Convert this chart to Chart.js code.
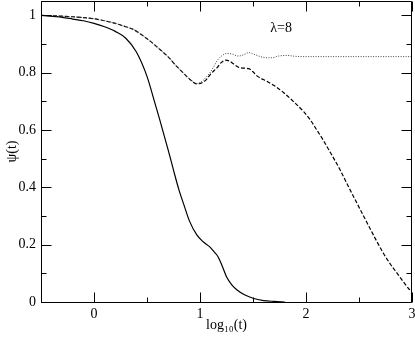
<!DOCTYPE html>
<html>
<head>
<meta charset="utf-8">
<script src="https://cdn.jsdelivr.net/npm/chart.js@4.4.1/dist/chart.umd.min.js"></script>
<style>
  html, body { margin: 0; padding: 0; background: #ffffff; }
  #wrap { width: 415px; height: 339px; }
</style>
</head>
<body>
<div id="wrap"><canvas id="c" width="415" height="339"></canvas></div>
<script>
// ---- data ----
const solidX = [-0.5,-0.3,-0.2,-0.1,0.0,0.1,0.2,0.3,0.4,0.5,0.57,0.62,0.7,0.75,0.8,0.85,0.9,0.97,1.03,1.09,1.14,1.17,1.21,1.25,1.3,1.35,1.42,1.5,1.6,1.7,1.8];
const solidY = [1.0,0.993,0.987,0.981,0.972,0.960,0.944,0.920,0.872,0.787,0.700,0.636,0.530,0.460,0.393,0.337,0.283,0.234,0.210,0.193,0.172,0.158,0.125,0.088,0.060,0.042,0.025,0.013,0.005,0.002,0.0];

const dashedX = [-0.5,-0.3,-0.2,0.0,0.1,0.2,0.3,0.37,0.45,0.53,0.6,0.7,0.78,0.84,0.9,0.97,1.02,1.06,1.1,1.16,1.2,1.24,1.28,1.31,1.38,1.46,1.5,1.54,1.63,1.7,1.79,1.88,1.98,2.04,2.09,2.16,2.24,2.32,2.4,2.48,2.55,2.61,2.67,2.73,2.8,2.86,2.92,2.98,3.0];
const dashedY = [1.0,0.997,0.995,0.988,0.981,0.972,0.960,0.951,0.932,0.910,0.888,0.855,0.822,0.800,0.778,0.761,0.765,0.776,0.795,0.817,0.835,0.844,0.840,0.832,0.817,0.814,0.803,0.788,0.770,0.755,0.730,0.700,0.663,0.636,0.607,0.566,0.515,0.462,0.403,0.345,0.295,0.252,0.210,0.170,0.130,0.100,0.070,0.042,0.036];

const dottedX = [-0.5,-0.3,-0.2,0.0,0.1,0.2,0.3,0.37,0.45,0.53,0.6,0.7,0.78,0.84,0.9,0.94,0.97,1.02,1.06,1.1,1.17,1.21,1.25,1.3,1.36,1.41,1.46,1.51,1.57,1.63,1.68,1.74,1.82,1.9,2.0,2.5,3.0];
const dottedY = [1.0,0.997,0.995,0.988,0.981,0.972,0.960,0.951,0.932,0.910,0.888,0.855,0.822,0.800,0.778,0.768,0.762,0.770,0.785,0.803,0.846,0.860,0.867,0.865,0.858,0.862,0.870,0.864,0.856,0.852,0.852,0.858,0.860,0.857,0.856,0.856,0.856];

const xTickValues = [0, 1, 2, 3];
const xMinorValues = [-0.5, 0.5, 1.5, 2.5];
const yTickValues = [0, 0.2, 0.4, 0.6, 0.8, 1];
const yTickLabels = ["0", "0.2", "0.4", "0.6", "0.8", "1"];
const yMinorValues = [0.1, 0.3, 0.5, 0.7, 0.9];
const annotationText = "λ=8";
const annotationPos = [1.765, 0.955];
const xTitle = "log₁₀(t)";
const yTitle = "ψ(t)";

const toPts = (xs, ys) => xs.map((x, i) => ({ x: x, y: ys[i] }));

const FONT = "'Liberation Serif', 'Times New Roman', serif";

const framePlugin = {
  id: 'frame',
  afterDatasetsDraw(chart) {
    const { ctx, chartArea: a, scales } = chart;
    const xs = scales.x, ys = scales.y;
    ctx.save();
    ctx.strokeStyle = '#000';
    ctx.lineWidth = 1;
    const L = Math.round(a.left) + 0.5, R = Math.round(a.right) - 0.5;
    const T = Math.round(a.top) + 0.5, B = Math.round(a.bottom) + 0.5;
    ctx.beginPath();
    ctx.rect(L, T, R - L, B - T);
    ctx.stroke();
    const major = 10, minor = 5;
    ctx.beginPath();
    const tickX = (v, len) => {
      const px = Math.round(xs.getPixelForValue(v)) + 0.5;
      ctx.moveTo(px, B); ctx.lineTo(px, B - len);
      ctx.moveTo(px, T); ctx.lineTo(px, T + len);
    };
    const tickY = (v, len) => {
      const py = Math.round(ys.getPixelForValue(v)) + 0.5;
      ctx.moveTo(L, py); ctx.lineTo(L + len, py);
      ctx.moveTo(R, py); ctx.lineTo(R - len, py);
    };
    xTickValues.forEach(v => tickX(v, major));
    xMinorValues.forEach(v => tickX(v, minor));
    yTickValues.forEach(v => tickY(v, major));
    yMinorValues.forEach(v => tickY(v, minor));
    ctx.stroke();
    // annotation
    ctx.fillStyle = '#000';
    ctx.font = "14px " + FONT;
    ctx.textAlign = 'center';
    ctx.textBaseline = 'middle';
    ctx.fillText(annotationText, xs.getPixelForValue(annotationPos[0]), ys.getPixelForValue(annotationPos[1]));
    ctx.restore();
  }
};

const bgPlugin = {
  id: 'bg',
  beforeDraw(chart) {
    const ctx = chart.ctx;
    ctx.save();
    ctx.fillStyle = '#fff';
    ctx.fillRect(0, 0, chart.width, chart.height);
    ctx.restore();
  }
};

const noPad = s => { s.paddingTop = 0; s.paddingBottom = 0; s.paddingLeft = 0; s.paddingRight = 0; };

new Chart(document.getElementById('c'), {
  type: 'line',
  data: {
    datasets: [
      { data: toPts(dottedX, dottedY), borderColor: '#444', borderWidth: 1, borderDash: [1, 1.5], pointRadius: 0, cubicInterpolationMode: 'monotone', fill: false },
      { data: toPts(dashedX, dashedY), borderColor: '#000', borderWidth: 1.2, borderDash: [4, 2], pointRadius: 0, cubicInterpolationMode: 'monotone', fill: false },
      { data: toPts(solidX, solidY), borderColor: '#000', borderWidth: 1.2, pointRadius: 0, cubicInterpolationMode: 'monotone', fill: false }
    ]
  },
  options: {
    responsive: false,
    animation: false,
    devicePixelRatio: 1,
    layout: { padding: { top: 1, right: 3, left: 0, bottom: 0 } },
    plugins: { legend: { display: false }, tooltip: { enabled: false } },
    scales: {
      x: {
        type: 'linear', min: -0.5, max: 3,
        grid: { display: false, drawTicks: false },
        border: { display: false },
        afterBuildTicks: s => { s.ticks = xTickValues.map(v => ({ value: v })); },
        afterFit: s => { s.height = 37; noPad(s); },
        ticks: { color: '#000', font: { family: FONT, size: 14 }, padding: 4, maxRotation: 0,
                 callback: v => String(v) },
        title: { display: true, text: xTitle, color: '#000', font: { family: FONT, size: 14 }, padding: { top: 0, bottom: 5 } }
      },
      y: {
        type: 'linear', min: 0, max: 1.05,
        grid: { display: false, drawTicks: false },
        border: { display: false },
        afterBuildTicks: s => { s.ticks = yTickValues.map(v => ({ value: v })); },
        afterFit: s => { s.width = 41; noPad(s); },
        ticks: { color: '#000', font: { family: FONT, size: 14 }, padding: 5,
                 callback: (v) => { const i = yTickValues.indexOf(v); return i >= 0 ? yTickLabels[i] : ''; } },
        title: { display: true, text: yTitle, color: '#000', font: { family: FONT, size: 14 }, padding: { top: 4, bottom: 0 } }
      }
    }
  },
  plugins: [bgPlugin, framePlugin]
});
</script>
</body>
</html>
